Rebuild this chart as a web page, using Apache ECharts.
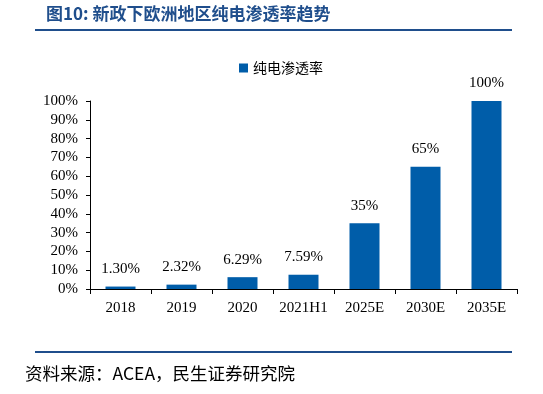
<!DOCTYPE html>
<html><head><meta charset="utf-8">
<script src="https://cdn.jsdelivr.net/npm/echarts@6/dist/echarts.min.js"></script>
<style>html,body{margin:0;padding:0;background:#fff}#c{width:543px;height:394px}</style>
</head><body><div id="c"></div>
<script>
const categories = ['2018','2019','2020','2021H1','2025E','2030E','2035E'];
const values = [1.30, 2.32, 6.29, 7.59, 35, 65, 100];
const valueLabels = ['1.30%','2.32%','6.29%','7.59%','35%','65%','100%'];
const seriesName = '纯电渗透率';
const titleText = '图10: 新政下欧洲地区纯电渗透率趋势';
const sourceText = '资料来源：ACEA，民生证券研究院';

const chart = echarts.init(document.getElementById('c'));
const serif = '"Liberation Serif","Times New Roman",serif';
const cjk = '"Noto Sans CJK SC",sans-serif';
chart.setOption({
  animation: false,
  grid: {left: 90, right: 26, top: 101, bottom: 105},
  legend: {
    data: [seriesName], top: 56, left: 234, itemWidth: 9, itemHeight: 9, itemGap: 6,
    icon: 'rect',
    textStyle: {fontFamily: cjk, fontSize: 14, color: '#000'}
  },
  xAxis: {
    type: 'category', data: categories,
    axisLine: {lineStyle: {color: '#000', width: 1}},
    axisTick: {show: true, alignWithLabel: false, length: 5, lineStyle: {color: '#000'}},
    axisLabel: {interval: 0, fontFamily: serif, fontSize: 15, color: '#000', margin: 12}
  },
  yAxis: {
    type: 'value', min: 0, max: 100, interval: 10,
    axisLine: {show: true, lineStyle: {color: '#000'}},
    axisTick: {show: true, length: 4, lineStyle: {color: '#000'}},
    splitLine: {show: false},
    axisLabel: {fontFamily: serif, fontSize: 15, color: '#000', margin: 12, formatter: '{value}%'}
  },
  series: [{
    name: seriesName, type: 'bar', data: values, barWidth: 30,
    itemStyle: {color: '#005DA9'},
    label: {show: true, position: 'top', distance: 10, fontFamily: serif, fontSize: 15, color: '#000',
      formatter: p => valueLabels[p.dataIndex]}
  }],
  graphic: [
    {type: 'text', left: 46, top: 5, style: {text: titleText, font: 'bold 17px ' + cjk, fill: '#1F4E8C'}},
    {type: 'rect', shape: {x: 35, y: 29, width: 477, height: 2}, style: {fill: '#1F4E8C'}},
    {type: 'rect', shape: {x: 35, y: 351, width: 477, height: 2}, style: {fill: '#1F4E8C'}},
    {type: 'text', left: 25, top: 365, style: {text: sourceText, font: '17.5px ' + cjk, fill: '#000'}}
  ]
});
</script></body></html>
